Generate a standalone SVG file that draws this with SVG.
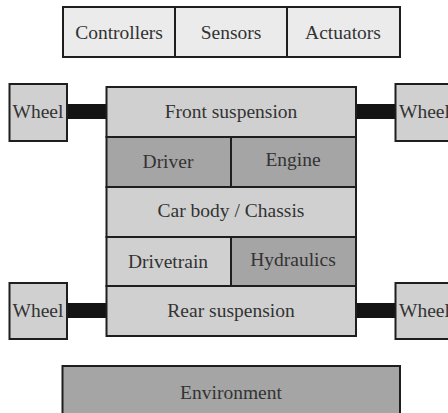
<svg xmlns="http://www.w3.org/2000/svg" width="448" height="413" viewBox="0 0 448 413">
<style>
.b{stroke:#1e1e1e;stroke-width:2}
.l{fill:#ebebeb}
.m{fill:#d0d0d0}
.d{fill:#a5a5a5}
.bar{fill:#141414}
</style>
<rect width="448" height="413" fill="#fff"/>
<g id="connectors">
<rect class="bar" x="67" y="104" width="40" height="15"/>
<rect class="bar" x="355" y="104" width="41" height="15"/>
<rect class="bar" x="67" y="303" width="40" height="15"/>
<rect class="bar" x="355" y="303" width="41" height="15"/>
</g>
<g font-size="19.5" fill="#333" text-anchor="middle">
<g id="controllers"><rect class="b l" x="63" y="7" width="112" height="50"/><text font-family="Liberation Serif" x="119" y="39">Controllers</text></g>
<g id="sensors"><rect class="b l" x="175" y="7" width="112" height="50"/><text font-family="Liberation Serif" x="231" y="39">Sensors</text></g>
<g id="actuators"><rect class="b l" x="287" y="7" width="113" height="50"/><text font-family="Liberation Serif" x="343" y="39">Actuators</text></g>
<g id="wheel-fl"><rect class="b m" x="9.5" y="84" width="57.5" height="57"/><text font-family="Liberation Serif" x="38" y="118">Wheel</text></g>
<g id="wheel-fr"><rect class="b m" x="395.5" y="84" width="60" height="57"/><text font-family="Liberation Serif" text-anchor="start" x="399" y="118">Wheel</text></g>
<g id="front-suspension"><rect class="b m" x="106.5" y="87" width="249.5" height="50"/><text font-family="Liberation Serif" x="231" y="118">Front suspension</text></g>
<g id="driver"><rect class="b d" x="106.5" y="137" width="124.5" height="50"/><text font-family="Liberation Serif" x="168" y="168">Driver</text></g>
<g id="engine"><rect class="b d" x="231" y="137" width="125" height="50"/><text font-family="Liberation Serif" x="293" y="166">Engine</text></g>
<g id="car-body"><rect class="b m" x="106.5" y="187" width="249.5" height="50"/><text font-family="Liberation Serif" x="231" y="217">Car body / Chassis</text></g>
<g id="drivetrain"><rect class="b m" x="106.5" y="237" width="124.5" height="49"/><text font-family="Liberation Serif" x="168" y="268">Drivetrain</text></g>
<g id="hydraulics"><rect class="b d" x="231" y="237" width="125" height="49"/><text font-family="Liberation Serif" x="293" y="266">Hydraulics</text></g>
<g id="rear-suspension"><rect class="b m" x="106.5" y="286" width="249.5" height="50"/><text font-family="Liberation Serif" x="231" y="317">Rear suspension</text></g>
<g id="wheel-rl"><rect class="b m" x="9.5" y="283" width="57.5" height="56"/><text font-family="Liberation Serif" x="38" y="317">Wheel</text></g>
<g id="wheel-rr"><rect class="b m" x="395.5" y="283" width="60" height="56"/><text font-family="Liberation Serif" text-anchor="start" x="399" y="317">Wheel</text></g>
<g id="environment"><rect class="b d" x="62.5" y="366" width="337.5" height="60"/><text font-family="Liberation Serif" x="231" y="399">Environment</text></g>
</g>
</svg>
